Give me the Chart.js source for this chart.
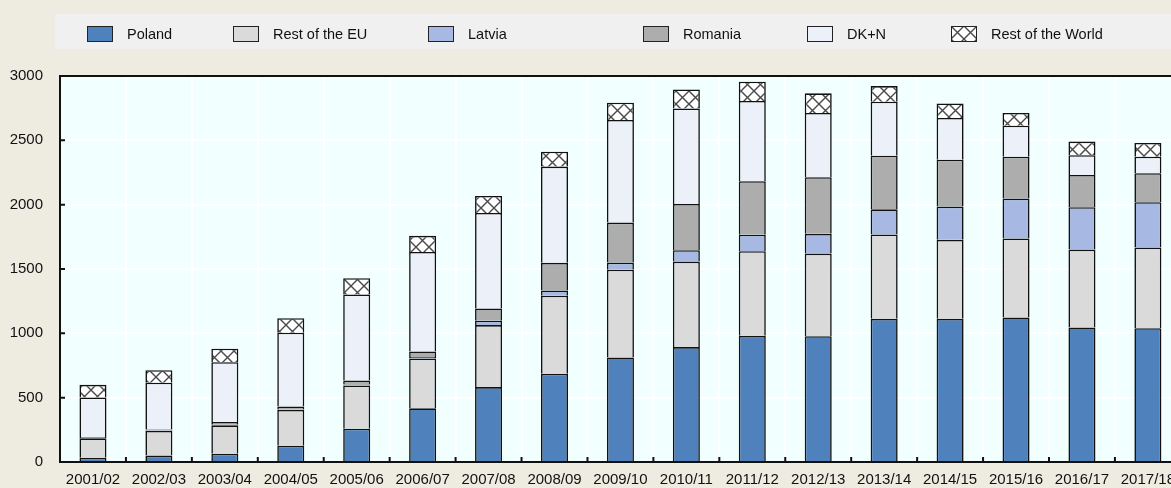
<!DOCTYPE html>
<html>
<head>
<meta charset="utf-8">
<script src="https://cdn.jsdelivr.net/npm/chart.js@4"></script>
<style>
  html, body { margin: 0; padding: 0; background: #EEEBE1; overflow: hidden; width: 1171px; height: 488px; }
  #wrap { position: absolute; left: 0; top: 0; width: 1184px; height: 488px; }
  #legend { position: absolute; left: 55px; top: 14px; width: 1130px; height: 35px; background: #F0F0F0;
            font-family: 'Liberation Sans', Arial, sans-serif; font-size: 14.5px; color: #111; }
  .item { position: absolute; top: 2px; height: 35px; display: flex; align-items: center; white-space: nowrap; }
  .sw { width: 26px; height: 16px; box-sizing: border-box; border: 1px solid #222; margin-right: 14px; }
  canvas.swc { margin-right: 14px; }
</style>
</head>
<body>
<div id="wrap"><canvas id="myChart"></canvas></div>
<div id="legend"></div>
<script>
  const labels = ['2001/02', '2002/03', '2003/04', '2004/05', '2005/06', '2006/07', '2007/08', '2008/09', '2009/10',
    '2010/11', '2011/12', '2012/13', '2013/14', '2014/15', '2015/16', '2016/17', '2017/18'];

  const poland   = [34, 50, 65, 127, 259, 417, 582, 686, 813, 893, 981, 978, 1113, 1113, 1123, 1046, 1040];
  const restEU   = [150, 191, 220, 277, 336, 388, 482, 606, 681, 665, 657, 642, 655, 614, 614, 605, 627];
  const latvia   = [3, 3, 4, 5, 8, 12, 34, 41, 56, 88, 128, 153, 196, 258, 310, 329, 352];
  const romania  = [8, 8, 21, 23, 31, 42, 95, 215, 311, 360, 416, 440, 417, 365, 326, 251, 225];
  const dkn      = [307, 364, 466, 573, 668, 774, 743, 748, 797, 742, 624, 500, 419, 324, 241, 153, 129];
  const restWorld = [98, 98, 104, 113, 127, 125, 132, 116, 135, 148, 150, 152, 122, 113, 99, 106, 107];

  const yTicks = [0, 500, 1000, 1500, 2000, 2500, 3000];

  const fontFamily = "'Liberation Sans', Arial, sans-serif";

  // cross hatch for Rest of the World
  function makeHatch() {
    const c = document.createElement('canvas');
    c.width = 13; c.height = 13;
    const g = c.getContext('2d');
    g.fillStyle = '#ffffff';
    g.fillRect(0, 0, 13, 13);
    g.strokeStyle = '#4a4a4a';
    g.lineWidth = 1.4;
    g.beginPath();
    g.moveTo(0, 0); g.lineTo(13, 13);
    g.moveTo(13, 0); g.lineTo(0, 13);
    g.stroke();
    return c;
  }
  const hatchTile = makeHatch();
  const hatch = document.createElement('canvas').getContext('2d').createPattern(hatchTile, 'repeat');

  const series = [
    { label: 'Poland', data: poland, color: '#4F81BD', left: 32 },
    { label: 'Rest of the EU', data: restEU, color: '#DADADA', left: 178 },
    { label: 'Latvia', data: latvia, color: '#A7B9E3', left: 373 },
    { label: 'Romania', data: romania, color: '#ADADAD', left: 588 },
    { label: 'DK+N', data: dkn, color: '#ECF0F8', left: 752 },
    { label: 'Rest of the World', data: restWorld, color: hatch, left: 896 },
  ];

  // html legend
  const legend = document.getElementById('legend');
  series.forEach(s => {
    const it = document.createElement('div');
    it.className = 'item';
    it.style.left = s.left + 'px';
    let sw;
    if (typeof s.color === 'string') {
      sw = document.createElement('div');
      sw.className = 'sw';
      sw.style.background = s.color;
    } else {
      sw = document.createElement('canvas');
      sw.className = 'swc';
      sw.width = 26; sw.height = 16;
      const g = sw.getContext('2d');
      g.fillStyle = g.createPattern(hatchTile, 'repeat');
      g.fillRect(0, 0, 26, 16);
      g.strokeStyle = '#222';
      g.lineWidth = 1;
      g.strokeRect(0.5, 0.5, 25, 15);
    }
    it.appendChild(sw);
    const t = document.createElement('span');
    t.textContent = s.label;
    it.appendChild(t);
    legend.appendChild(it);
  });

  const plotBg = {
    id: 'plotBg',
    beforeDraw(chart) {
      const { ctx, chartArea: a } = chart;
      ctx.save();
      ctx.fillStyle = '#F2FFFF';
      ctx.fillRect(a.left, a.top, a.right - a.left, a.bottom - a.top);
      ctx.restore();
    },
    afterDraw(chart) {
      const { ctx, chartArea: a, scales } = chart;
      ctx.save();
      ctx.strokeStyle = '#111';
      ctx.lineWidth = 2;
      ctx.beginPath();
      ctx.moveTo(a.left - 1, a.top);
      ctx.lineTo(a.right, a.top);
      // inner ticks on x axis at category boundaries
      const xs = scales.x;
      for (let i = 1; i < labels.length; i++) {
        const px = (xs.getPixelForValue(i - 1) + xs.getPixelForValue(i)) / 2;
        ctx.moveTo(px, a.bottom);
        ctx.lineTo(px, a.bottom - 5);
      }
      // inner ticks on y axis
      yTicks.forEach(v => {
        const py = scales.y.getPixelForValue(v);
        ctx.moveTo(a.left, py);
        ctx.lineTo(a.left + 5, py);
      });
      ctx.stroke();
      ctx.restore();
    }
  };

  const data = {
    labels: labels,
    datasets: series.map(s => ({
      label: s.label,
      data: s.data,
      backgroundColor: s.color,
      borderColor: '#111',
      borderWidth: 1.6,
      barPercentage: 0.41,
      categoryPercentage: 1.0,
    }))
  };

  const config = {
    type: 'bar',
    data: data,
    options: {
      responsive: true,
      maintainAspectRatio: false,
      animation: false,
      layout: { padding: { top: 76, left: 0, right: 0, bottom: 0 } },
      plugins: {
        legend: { display: false },
        tooltip: { enabled: false }
      },
      scales: {
        x: {
          stacked: true,
          grid: { color: '#ffffff', lineWidth: 2, drawTicks: false },
          border: { color: '#111', width: 2 },
          ticks: { color: '#111', font: { family: fontFamily, size: 15 }, padding: 9, maxRotation: 0, autoSkip: false },
          afterFit(scale) { scale.height = 25; }
        },
        y: {
          stacked: true,
          min: 0,
          max: 3000,
          grid: { color: '#ffffff', lineWidth: 2, drawTicks: false },
          border: { color: '#111', width: 2 },
          ticks: {
            stepSize: 500, color: '#111', font: { family: fontFamily, size: 15 }, padding: 17,
            callback: v => String(v)
          },
          afterFit(scale) { scale.width = 60; }
        }
      }
    },
    plugins: [plotBg]
  };

  const myChart = new Chart(document.getElementById('myChart'), config);
</script>
</body>
</html>
